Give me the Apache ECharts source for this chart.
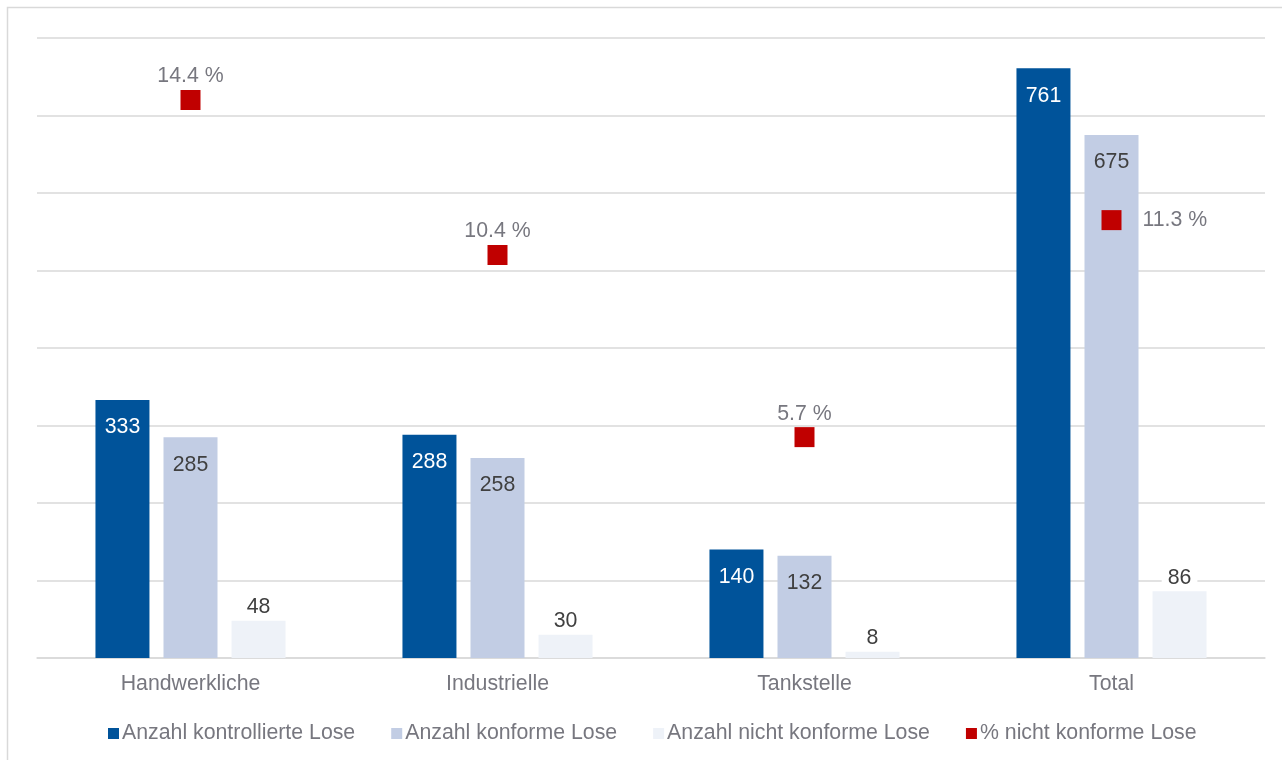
<!DOCTYPE html>
<html>
<head>
<meta charset="utf-8">
<script src="https://cdn.jsdelivr.net/npm/echarts@6/dist/echarts.min.js"></script>
<style>
  html, body { margin: 0; padding: 0; background: #fff; }
  #chart { width: 1282px; height: 760px; }
</style>
</head>
<body>
<div id="chart"></div>
<script>
// Lot controls by outlet type
const categories = ['Handwerkliche', 'Industrielle', 'Tankstelle', 'Total'];
const kontrolliert = [333, 288, 140, 761];
const konform = [285, 258, 132, 675];
const nichtKonform = [48, 30, 8, 86];
const prozentNichtKonform = [14.4, 10.4, 5.7, 11.3];

const seriesNames = [
  'Anzahl kontrollierte Lose',
  'Anzahl konforme Lose',
  'Anzahl nicht konforme Lose',
  '% nicht konforme Lose'
];

const FONT = '"Liberation Sans", Arial, sans-serif';
const FS = 21.3;
const TXT_GRAY = '#77777f';

const chart = echarts.init(document.getElementById('chart'));

chart.setOption({
  animation: false,
  textStyle: { fontFamily: FONT },
  graphic: [{
    type: 'rect',
    shape: { x: 7.5, y: 7.5, width: 1300, height: 800 },
    style: { fill: 'none', stroke: '#d9d9d9', lineWidth: 1.5 },
    silent: true,
    z: -1
  }],
  grid: { left: 37, right: 17, top: 38, bottom: 102, containLabel: false },
  legend: {
    left: 103,
    top: 718,
    itemWidth: 11,
    itemHeight: 11,
    itemGap: 36,
    icon: 'rect',
    textStyle: { fontFamily: FONT, fontSize: FS, color: TXT_GRAY, padding: [0, 0, 0, -2] },
    data: seriesNames
  },
  xAxis: {
    type: 'category',
    data: categories,
    axisTick: { show: false },
    axisLine: { show: true, lineStyle: { color: '#d9d9d9', width: 1.5 } },
    axisLabel: { fontFamily: FONT, fontSize: FS, color: TXT_GRAY, margin: 16 }
  },
  yAxis: [{
    type: 'value',
    min: 0,
    max: 800,
    interval: 100,
    axisLabel: { show: false },
    axisLine: { show: false },
    axisTick: { show: false },
    splitLine: { lineStyle: { color: '#d9d9d9', width: 1.5 } }
  }, {
    type: 'value',
    min: 0,
    max: 16,
    show: false,
    splitLine: { show: false }
  }],
  series: [{
    name: seriesNames[0],
    type: 'bar',
    data: kontrolliert,
    barWidth: 54,
    barGap: '26%',
    itemStyle: { color: '#00539A' },
    label: {
      show: true, position: 'insideTop', distance: 17,
      fontFamily: FONT, fontSize: FS, color: '#ffffff'
    }
  }, {
    name: seriesNames[1],
    type: 'bar',
    data: konform,
    barWidth: 54,
    barGap: '26%',
    itemStyle: { color: '#C2CDE4' },
    label: {
      show: true, position: 'insideTop', distance: 17,
      fontFamily: FONT, fontSize: FS, color: '#404040'
    }
  }, {
    name: seriesNames[2],
    type: 'bar',
    data: nichtKonform,
    barWidth: 54,
    barGap: '26%',
    itemStyle: { color: '#EEF2F8' },
    label: {
      show: true, position: 'top', distance: 3,
      fontFamily: FONT, fontSize: FS, color: '#404040',
      backgroundColor: '#ffffff', padding: [0, 6]
    }
  }, {
    name: seriesNames[3],
    type: 'scatter',
    yAxisIndex: 1,
    symbol: 'rect',
    symbolSize: 20,
    itemStyle: { color: '#C00000', opacity: 1 },
    data: prozentNichtKonform.map((v, i) => ({
      value: v,
      label: i === 3 ? { position: 'right', distance: 21 } : { position: 'top', distance: 3 }
    })),
    label: {
      show: true,
      fontFamily: FONT, fontSize: FS, color: TXT_GRAY,
      formatter: p => p.value.toFixed(1) + ' %'
    },
    z: 5
  }]
});
</script>
</body>
</html>
